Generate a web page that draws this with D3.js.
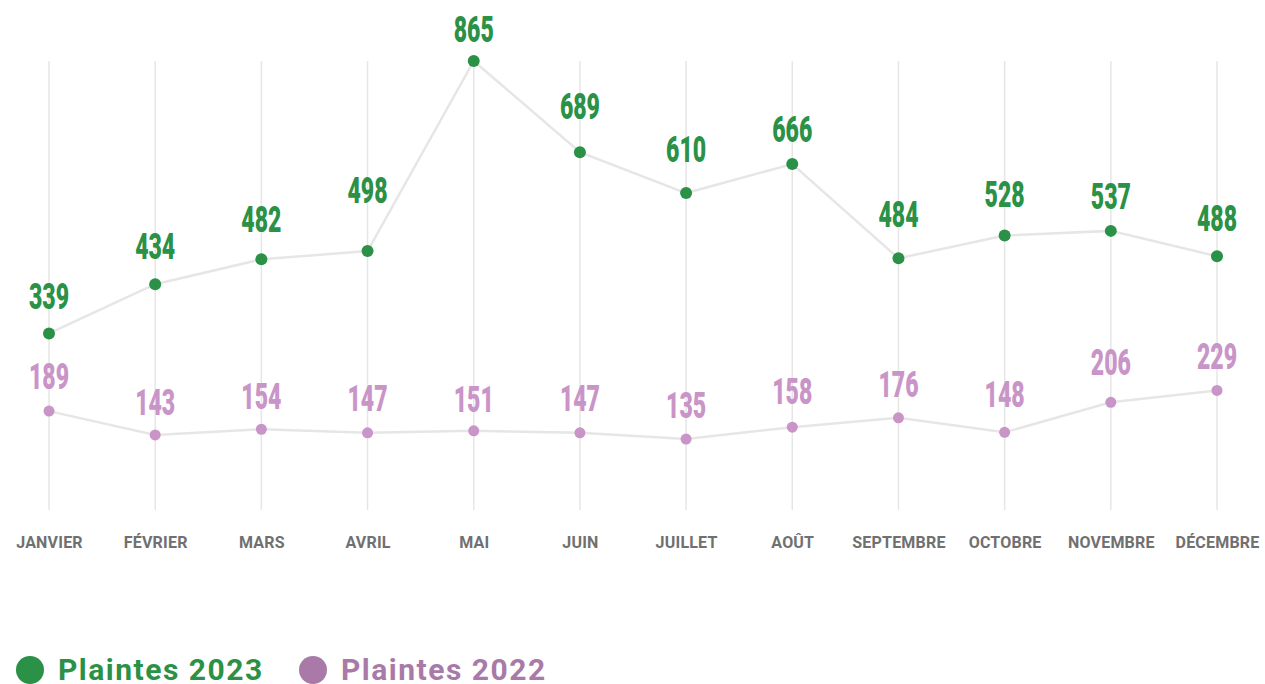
<!DOCTYPE html>
<html>
<head>
<meta charset="utf-8">
<script src="https://cdn.jsdelivr.net/npm/d3@7"></script>
<style>
  body { margin: 0; background: #fff; }
</style>
</head>
<body>
<svg id="chart" width="1265" height="684"></svg>
<script>
// data
let months = ["JANVIER", "FÉVRIER", "MARS", "AVRIL", "MAI", "JUIN", "JUILLET", "AOÛT", "SEPTEMBRE", "OCTOBRE", "NOVEMBRE", "DÉCEMBRE"];
let plaintes2023 = [339, 434, 482, 498, 865, 689, 610, 666, 484, 528, 537, 488];
let plaintes2022 = [189, 143, 154, 147, 151, 147, 135, 158, 176, 148, 206, 229];
let seriesNames = ["Plaintes 2023", "Plaintes 2022"];

// label nudges (px above the point), as placed in the original
let labelGap2023 = [24, 25, 27, 48, 19, 33, 31, 22, 31, 29, 22, 25];
let labelGap2022 = [22, 20, 20, 22, 19, 22, 21, 23, 21, 25, 27, 21];

let green = '#2a9146';
let purple = '#c994c7';
let purpleLegend = '#a97aa8';

let svg = d3.select('#chart');

let x = d3.scalePoint()
    .domain(months)
    .range([49, 1217]);

let y = d3.scaleLinear()
    .domain([0, 865])
    .range([509, 61]);

// vertical grid lines
svg.append('g')
    .selectAll('line')
    .data(months)
    .join('line')
    .attr('x1', d => x(d))
    .attr('x2', d => x(d))
    .attr('y1', y(865))
    .attr('y2', 510)
    .attr('stroke', '#e6e6e6')
    .attr('stroke-width', 1.5);

// month labels
let xAxis = svg.append('g')
    .attr('transform', 'translate(0, 530)')
    .call(d3.axisBottom(x).tickSize(0).tickPadding(0));
xAxis.select('.domain').remove();
xAxis.selectAll('text')
    .attr('dy', '18px')
    .attr('fill', '#707070')
    .style('font-family', 'Roboto, sans-serif')
    .style('font-weight', 700)
    .style('font-size', '16px')
    .style('letter-spacing', '0.2px');

let line = d3.line()
    .x((d, i) => x(months[i]))
    .y(d => y(d));

function drawSeries(values, gaps, color, r)
{
    svg.append('path')
        .datum(values)
        .attr('d', line)
        .attr('fill', 'none')
        .attr('stroke', '#e6e6e6')
        .attr('stroke-width', 2.5);

    svg.append('g')
        .selectAll('circle')
        .data(values)
        .join('circle')
        .attr('cx', (d, i) => x(months[i]))
        .attr('cy', d => y(d))
        .attr('r', r)
        .attr('fill', color);

    svg.append('g')
        .selectAll('text')
        .data(values)
        .join('text')
        .attr('transform', (d, i) => `translate(${x(months[i])}, ${y(d) - gaps[i]}) scale(0.64, 1)`)
        .attr('text-anchor', 'middle')
        .attr('fill', color)
        .style('font-family', 'Roboto, sans-serif')
        .style('font-weight', 900)
        .style('font-size', '36px')
        .text(d => d);
}

drawSeries(plaintes2023, labelGap2023, green, 6);
drawSeries(plaintes2022, labelGap2022, purple, 5.5);

// legend
let legend = svg.append('g');
let legendX = [30, 313];
let legendColors = [green, purpleLegend];

legend.selectAll('circle')
    .data(seriesNames)
    .join('circle')
    .attr('cx', (d, i) => legendX[i])
    .attr('cy', 670)
    .attr('r', 14)
    .attr('fill', (d, i) => legendColors[i]);

legend.selectAll('text')
    .data(seriesNames)
    .join('text')
    .attr('x', (d, i) => legendX[i] + 28)
    .attr('y', 680)
    .attr('fill', (d, i) => legendColors[i])
    .style('font-family', 'Roboto, sans-serif')
    .style('font-weight', 700)
    .style('font-size', '30px')
    .style('letter-spacing', '1.5px')
    .text(d => d);
</script>
</body>
</html>
